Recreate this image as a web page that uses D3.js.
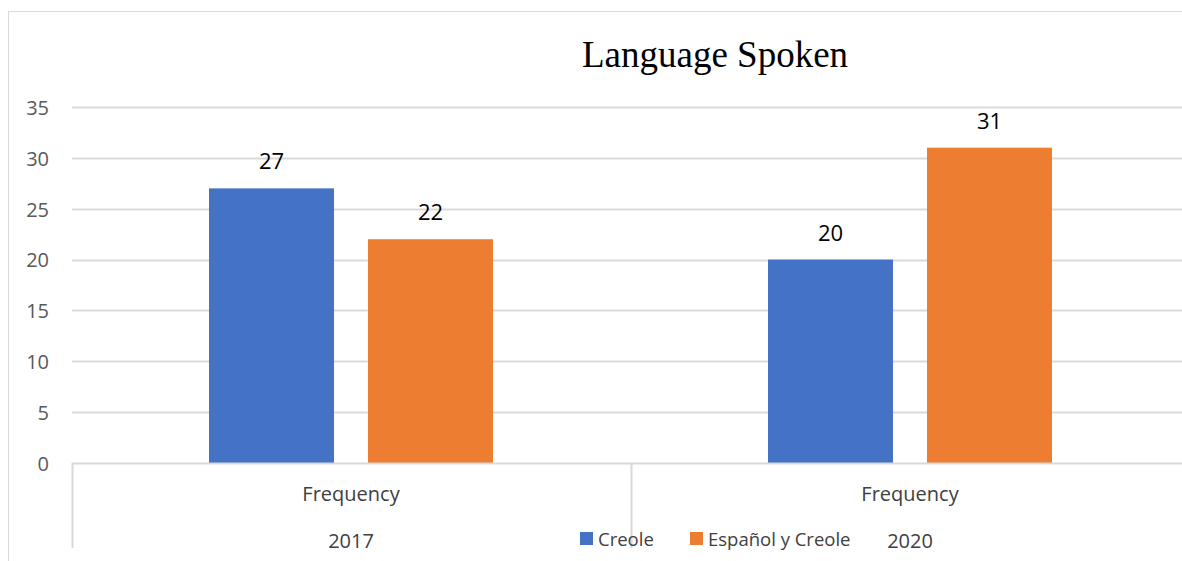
<!DOCTYPE html>
<html>
<head>
<meta charset="utf-8">
<script src="https://cdn.jsdelivr.net/npm/d3@7"></script>
<style>
  html, body { margin: 0; padding: 0; background: #fff; }
  svg { display: block; }
</style>
</head>
<body>
<svg id="chart" width="1182" height="561"></svg>
<script>
// Chart data
const years = ["2017", "2020"];
const measures = ["Frequency", "Frequency"];
const series = ["Creole", "Español y Creole"];
const creole = [27, 20];
const espanolCreole = [22, 31];
const yTicks = [0, 5, 10, 15, 20, 25, 30, 35];
const colors = ["#4472C4", "#ED7D31"];

const svg = d3.select("#chart");
const W = 1182, H = 561;
const font = "'Open Sans', Calibri, sans-serif";

// Outer chart frame (right and bottom sides fall outside the view)
svg.append("rect")
  .attr("x", 8.5).attr("y", 11.5)
  .attr("width", W + 20).attr("height", H + 20)
  .attr("fill", "#fff").attr("stroke", "#d9d9d9").attr("stroke-width", 1);

const plot = { left: 72, right: 1190, top: 107, bottom: 463 };

const x0 = d3.scaleBand().domain(years).range([plot.left, plot.right]);
// Inner band for the two series, measured from the start of each year group
const inner = [137, 421];
const x1 = d3.scaleBand().domain(series).range(inner).paddingInner(0.214);
const y = d3.scaleLinear().domain([0, 35]).range([plot.bottom, plot.top]);
const groupCenter = (inner[0] + inner[1]) / 2;

// Gridlines
svg.append("g").selectAll("line").data(yTicks.filter(d => d > 0)).join("line")
  .attr("x1", plot.left).attr("x2", W)
  .attr("y1", d => Math.round(y(d)) + 0.5).attr("y2", d => Math.round(y(d)) + 0.5)
  .attr("stroke", "#d9d9d9").attr("stroke-width", 2);

// Y axis labels
const yAxis = d3.axisLeft(y).tickValues(yTicks).tickSize(0).tickPadding(0);
const yg = svg.append("g").attr("transform", "translate(49,0)").call(yAxis);
yg.select(".domain").remove();
yg.selectAll("text")
  .attr("font-family", font)
  .attr("font-size", 20).attr("fill", "#595959").attr("dy", "0.37em");

// Bars
const rows = years.map((yr, i) => ({ year: yr, values: [creole[i], espanolCreole[i]] }));
const groups = svg.append("g").selectAll("g").data(rows).join("g")
  .attr("transform", d => `translate(${x0(d.year)},0)`);

groups.selectAll("rect").data(d => d.values.map((v, j) => ({ key: series[j], v, j }))).join("rect")
  .attr("x", d => x1(d.key)).attr("width", x1.bandwidth())
  .attr("y", d => y(d.v)).attr("height", d => y(0) - y(d.v))
  .attr("fill", d => colors[d.j]);

// Data labels
groups.selectAll("text").data(d => d.values.map((v, j) => ({ key: series[j], v, j }))).join("text")
  .attr("x", d => x1(d.key) + x1.bandwidth() / 2)
  .attr("y", d => y(d.v) - 19)
  .attr("text-anchor", "middle")
  .attr("font-family", font)
  .attr("font-size", 22).attr("fill", "#000")
  .text(d => d.v);

// Category axis baseline and group separators
svg.append("line")
  .attr("x1", plot.left).attr("x2", W)
  .attr("y1", plot.bottom + 0.5).attr("y2", plot.bottom + 0.5)
  .attr("stroke", "#d9d9d9").attr("stroke-width", 2);
svg.append("g").selectAll("line").data(years).join("line")
  .attr("x1", d => x0(d) + 0.5).attr("x2", d => x0(d) + 0.5)
  .attr("y1", plot.bottom).attr("y2", 548)
  .attr("stroke", "#d9d9d9").attr("stroke-width", 2);

// Category labels (two levels)
svg.append("g").selectAll("text").data(years).join("text")
  .attr("x", d => x0(d) + groupCenter)
  .attr("y", 501).attr("text-anchor", "middle")
  .attr("font-family", font).attr("font-size", 20).attr("fill", "#404040")
  .text((d, i) => measures[i]);
svg.append("g").selectAll("text").data(years).join("text")
  .attr("x", d => x0(d) + groupCenter)
  .attr("y", 548).attr("text-anchor", "middle")
  .attr("font-family", font).attr("font-size", 20).attr("fill", "#404040")
  .text(d => d);

// Title
svg.append("text")
  .attr("x", 715).attr("y", 67).attr("text-anchor", "middle")
  .attr("font-family", "'Times New Roman', 'Liberation Serif', serif")
  .attr("font-size", 37).attr("fill", "#000")
  .text("Language Spoken");

// Legend
const legendX = [580, 690];
const lg = svg.append("g").selectAll("g").data(series).join("g")
  .attr("transform", (d, i) => `translate(${legendX[i]},532)`);
lg.append("rect").attr("width", 13).attr("height", 13).attr("fill", (d, i) => colors[i]);
lg.append("text").attr("x", 18).attr("y", 13.5)
  .attr("font-family", font).attr("font-size", 18.5).attr("fill", "#404040")
  .text(d => d);
</script>
</body>
</html>
